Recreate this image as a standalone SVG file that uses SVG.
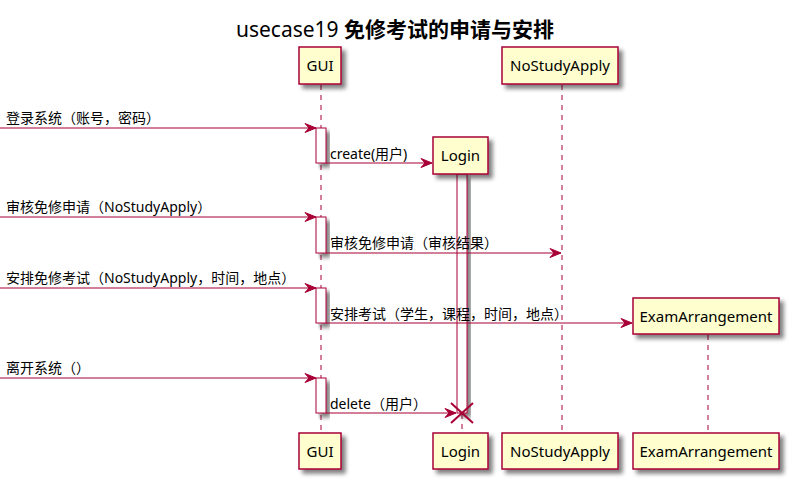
<svg xmlns="http://www.w3.org/2000/svg" width="793" height="481" viewBox="0 0 793 481">
<defs>
<filter id="sh" x="-20%" y="-20%" width="160%" height="160%">
<feGaussianBlur in="SourceAlpha" stdDeviation="2"/>
<feOffset dx="4" dy="4" result="b"/>
<feComponentTransfer><feFuncA type="linear" slope="0.5"/></feComponentTransfer>
<feMerge><feMergeNode/><feMergeNode in="SourceGraphic"/></feMerge>
</filter>
<marker id="ah" markerWidth="13" markerHeight="11" refX="12" refY="5.5" orient="auto" markerUnits="userSpaceOnUse">
<polygon points="1,1 12,5.5 1,10 5,5.5" fill="#A80036" stroke="#A80036" stroke-width="1"/>
</marker>
</defs>
<style>
text{font-family:"Noto Sans","Noto Sans CJK SC",sans-serif;fill:#000}
.p{fill:#FEFECE;stroke:#A80036;stroke-width:1.5;filter:url(#sh)}
.pt{font-size:15px;text-anchor:middle}
.ll{stroke:#A80036;stroke-width:1;stroke-dasharray:5,5;fill:none}
.act{fill:#FFFFFF;stroke:#A80036;stroke-width:1;filter:url(#sh)}
.m{stroke:#A80036;stroke-width:1.2;fill:none;marker-end:url(#ah)}
.ml{font-size:14px}
</style>
<text x="395" y="37" style="font-size:21px;text-anchor:middle">usecase19 <tspan font-weight="bold">免修考试的申请与安排</tspan></text>
<g id="lifelines">
<line class="ll" x1="321" y1="85" x2="321" y2="432"/>
<line class="ll" x1="462" y1="174" x2="462" y2="432"/>
<line class="ll" x1="562" y1="85" x2="562" y2="432"/>
<line class="ll" x1="708" y1="335" x2="708" y2="432"/>
</g>
<g id="activations">
<rect class="act" x="316" y="128" width="10" height="35"/>
<rect class="act" x="457" y="174" width="10" height="239"/>
<rect class="act" x="316" y="217" width="10" height="36"/>
<rect class="act" x="316" y="288" width="10" height="35"/>
<rect class="act" x="316" y="378" width="10" height="35"/>
</g>
<g id="GUI">
<rect class="p" x="299" y="47" width="42" height="37"/>
<text class="pt" x="320" y="71">GUI</text>
<rect class="p" x="299" y="433" width="42" height="36"/>
<text class="pt" x="320" y="457">GUI</text>
</g>
<g id="Login">
<rect class="p" x="433" y="137" width="55" height="37"/>
<text class="pt" x="460.5" y="161">Login</text>
<rect class="p" x="433" y="433" width="55" height="36"/>
<text class="pt" x="460.5" y="457">Login</text>
</g>
<g id="NoStudyApply">
<rect class="p" x="502" y="47" width="116" height="37"/>
<text class="pt" x="560" y="71">NoStudyApply</text>
<rect class="p" x="502" y="433" width="116" height="36"/>
<text class="pt" x="560" y="457">NoStudyApply</text>
</g>
<g id="ExamArrangement">
<rect class="p" x="633" y="298" width="146" height="36"/>
<text class="pt" x="706" y="322">ExamArrangement</text>
<rect class="p" x="633" y="433" width="146" height="36"/>
<text class="pt" x="706" y="457">ExamArrangement</text>
</g>
<g id="connectors">
<line class="m" x1="0" y1="128" x2="316" y2="128"/>
<text class="ml" x="6" y="123">登录系统（账号，密码）</text>
<line class="m" x1="326" y1="163" x2="432" y2="163"/>
<text class="ml" x="330" y="159">create(用户)</text>
<line class="m" x1="0" y1="217" x2="316" y2="217"/>
<text class="ml" x="6" y="212">审核免修申请（NoStudyApply）</text>
<line class="m" x1="326" y1="253" x2="561" y2="253"/>
<text class="ml" x="330" y="248">审核免修申请（审核结果）</text>
<line class="m" x1="0" y1="288" x2="316" y2="288"/>
<text class="ml" x="6" y="283">安排免修考试（NoStudyApply，时间，地点）</text>
<line class="m" x1="326" y1="323" x2="632" y2="323"/>
<text class="ml" x="330" y="319">安排考试（学生，课程，时间，地点）</text>
<line class="m" x1="0" y1="378" x2="316" y2="378"/>
<text class="ml" x="6" y="373">离开系统（）</text>
<line class="m" x1="326" y1="413" x2="456" y2="413"/>
<text class="ml" x="330" y="409">delete（用户）</text>
<g stroke="#A80036" stroke-width="2">
<line x1="451" y1="403" x2="473" y2="423"/>
<line x1="473" y1="403" x2="451" y2="423"/>
</g>
</g>
</svg>
